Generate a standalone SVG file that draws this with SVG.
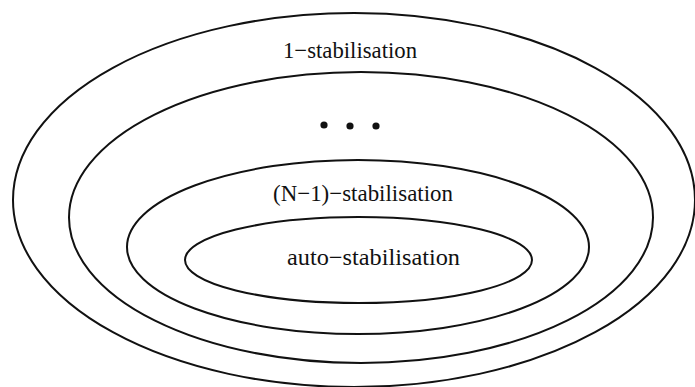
<svg xmlns="http://www.w3.org/2000/svg" width="695" height="387" viewBox="0 0 695 387">
<style>
.e{fill:none;stroke:#111;stroke-width:2}
.t{font-family:"Liberation Serif","Times New Roman",serif;font-size:23px;fill:#111;text-anchor:middle}
.d{fill:#111}
</style>
<rect width="695" height="387" fill="#fff"/>
<g id="level1">
<ellipse class="e" cx="354" cy="200" rx="341" ry="187"/>
<text class="t" x="350" y="58" textLength="134" lengthAdjust="spacingAndGlyphs">1−stabilisation</text>
</g>
<g id="ellipsis">
<ellipse class="e" cx="361" cy="217.5" rx="292" ry="145.5"/>
<circle class="d" cx="324" cy="125" r="3.6"/>
<circle class="d" cx="350" cy="126" r="3.6"/>
<circle class="d" cx="376" cy="126" r="3.6"/>
</g>
<g id="levelN1">
<ellipse class="e" cx="358" cy="247" rx="231" ry="87"/>
<text class="t" x="363" y="201" textLength="180" lengthAdjust="spacingAndGlyphs">(N−1)−stabilisation</text>
</g>
<g id="auto">
<ellipse class="e" cx="358.5" cy="260" rx="173.5" ry="43"/>
<text class="t" x="373.5" y="265" textLength="173" lengthAdjust="spacingAndGlyphs">auto−stabilisation</text>
</g>
</svg>
